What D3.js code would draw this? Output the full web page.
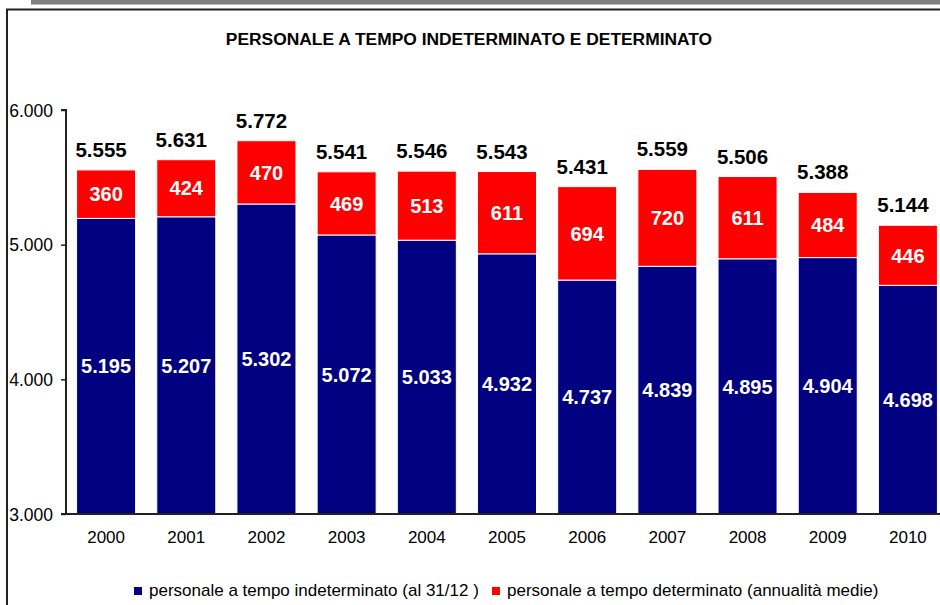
<!DOCTYPE html>
<html>
<head>
<meta charset="utf-8">
<script src="https://cdn.jsdelivr.net/npm/d3@7"></script>
<style>
  body { margin: 0; background: #fff; }
  svg { display: block; font-family: Arial, "Liberation Sans", sans-serif; }
</style>
</head>
<body>
<svg></svg>
<script>
const width = 940, height = 605;

// data
const years = ["2000", "2001", "2002", "2003", "2004", "2005", "2006", "2007", "2008", "2009", "2010"];
const indeterminato = [5195, 5207, 5302, 5072, 5033, 4932, 4737, 4839, 4895, 4904, 4698];
const determinato = [360, 424, 470, 469, 513, 611, 694, 720, 611, 484, 446];
const totals = [5555, 5631, 5772, 5541, 5546, 5543, 5431, 5559, 5506, 5388, 5144];
const yTicks = [3000, 4000, 5000, 6000];
const seriesNames = ["personale a tempo indeterminato (al 31/12 )", "personale a tempo determinato (annualità medie)"];
const colors = ["#000080", "#ff0000"];

const fmt = d3.formatLocale({decimal: ",", thousands: ".", grouping: [3]}).format(",d");

const svg = d3.select("svg")
    .attr("width", width)
    .attr("height", height);

// frame
svg.append("rect").attr("x", 31).attr("y", 0).attr("width", width - 31).attr("height", 4.5).attr("fill", "#808080");
svg.append("path")
    .attr("d", `M7,${height} V9.5 H${width}`)
    .attr("fill", "none").attr("stroke", "#222").attr("stroke-width", 2);

svg.append("text")
    .attr("x", 469).attr("y", 45)
    .attr("text-anchor", "middle")
    .attr("font-weight", "bold")
    .attr("font-size", 17.4)
    .text("PERSONALE A TEMPO INDETERMINATO E DETERMINATO");

const x = d3.scaleBand()
    .domain(years)
    .range([66, 948])
    .paddingInner(0.264)
    .paddingOuter(0.132);

const y = d3.scaleLinear()
    .domain([3000, 6000])
    .range([514, 110]);

const rows = years.map((yr, i) => ({
    year: yr, ind: indeterminato[i], det: determinato[i], tot: totals[i]
}));

const stack = d3.stack().keys(["ind", "det"])(rows);

const bars = svg.append("g");
stack.forEach((layer, k) => {
    bars.append("g")
        .attr("fill", colors[k])
        .attr("stroke", "#fff")
        .attr("stroke-width", 1)
        .selectAll("rect")
        .data(layer)
        .join("rect")
        .attr("x", d => x(d.data.year))
        .attr("width", x.bandwidth())
        .attr("y", d => y(d[1]))
        .attr("height", d => y(Math.max(d[0], 3000)) - y(d[1]));
});

// labels inside segments
stack.forEach((layer, k) => {
    svg.append("g")
        .selectAll("text")
        .data(layer)
        .join("text")
        .attr("x", d => x(d.data.year) + x.bandwidth() / 2)
        .attr("y", d => (y(Math.max(d[0], 3000)) + y(d[1])) / 2)
        .attr("dy", "0.36em")
        .attr("text-anchor", "middle")
        .attr("fill", "#fff")
        .attr("font-weight", "bold")
        .attr("font-size", 20)
        .text(d => fmt(d.data[k === 0 ? "ind" : "det"]));
});

// totals above bars
svg.append("g")
    .selectAll("text")
    .data(rows)
    .join("text")
    .attr("x", d => x(d.year) + x.bandwidth() / 2 - 5)
    .attr("y", d => y(d.tot) - 13)
    .attr("text-anchor", "middle")
    .attr("font-weight", "bold")
    .attr("font-size", 20.5)
    .attr("fill", "#000")
    .text(d => fmt(d.tot));

// y axis
const yAxis = svg.append("g")
    .attr("transform", "translate(66,0)")
    .call(d3.axisLeft(y).tickValues(yTicks).tickSize(5).tickPadding(8).tickFormat(fmt));
yAxis.select(".domain").attr("stroke", "#222").attr("stroke-width", 2).attr("d", `M-5,${y(6000)}H0V${y(3000)}H-5`);
yAxis.selectAll(".tick line").attr("stroke", "#222").attr("stroke-width", 1.5);
yAxis.selectAll(".tick text")
    .attr("font-size", 17.5)
    .attr("font-family", "Arial, 'Liberation Sans', sans-serif")
    .attr("fill", "#000")
    .attr("x", -13)
    .attr("dy", "0.36em");

// x axis
const xAxis = svg.append("g")
    .attr("transform", `translate(0,${y(3000)})`)
    .call(d3.axisBottom(x).tickSize(0).tickPadding(17));
xAxis.select(".domain").attr("stroke", "#222").attr("stroke-width", 2).attr("d", `M66,0H${width}`);
xAxis.selectAll(".tick text")
    .attr("font-size", 17)
    .attr("font-family", "Arial, 'Liberation Sans', sans-serif")
    .attr("fill", "#000");

// legend
const legendX = [134, 492];
const legend = svg.append("g")
    .selectAll("g")
    .data(seriesNames)
    .join("g")
    .attr("transform", (d, i) => `translate(${legendX[i]},587)`);
legend.append("rect").attr("width", 8).attr("height", 8).attr("fill", (d, i) => colors[i]);
legend.append("text")
    .attr("x", 15).attr("y", 8.5)
    .attr("font-size", 17)
    .attr("fill", "#000")
    .text(d => d);
</script>
</body>
</html>
